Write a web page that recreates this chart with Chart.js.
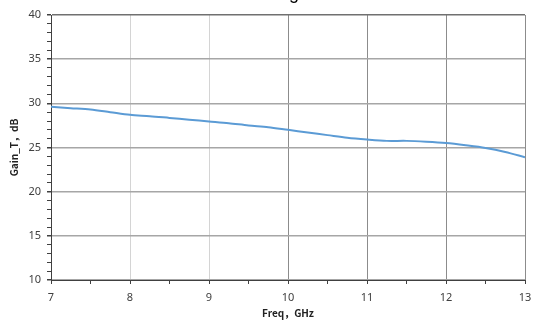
<!DOCTYPE html>
<html>
<head>
<meta charset="utf-8">
<script src="https://cdn.jsdelivr.net/npm/chart.js@4/dist/chart.umd.min.js"></script>
<style>
html,body{margin:0;padding:0;background:#fff;}
#wrap{width:533px;height:323px;position:relative;}
</style>
</head>
<body>
<div id="wrap"><canvas id="c" width="533" height="323"></canvas></div>
<script>
const freqGHz = [7,7.25,7.5,7.75,8,8.25,8.5,8.75,9,9.25,9.5,9.75,10,10.25,10.5,10.75,11,11.25,11.5,11.75,12,12.25,12.5,12.75,13];
const gainT = [29.6,29.45,29.3,29.0,28.7,28.55,28.35,28.15,27.95,27.75,27.5,27.3,27.0,26.7,26.4,26.1,25.9,25.75,25.75,25.65,25.5,25.25,24.95,24.5,23.9];
const xTickLabels = ['7','8','9','10','11','12','13'];
const yTickLabels = ['10','15','20','25','30','35','40'];
const chartTitle = 'Small-signal Gain';
const xTitle = 'Freq，GHz';
const yTitle = 'Gain_T，dB';

const points = freqGHz.map((f,i)=>({x:f,y:gainT[i]}));

const clippedTitle = {
  id:'clippedTitle',
  afterDraw(chart){
    const ctx = chart.ctx;
    ctx.save();
    ctx.font = '18px "Liberation Sans", sans-serif';
    ctx.fillStyle = '#000';
    ctx.textBaseline = 'alphabetic';
    ctx.textAlign = 'left';
    const pre = ctx.measureText('Small-si').width;
    const gw = ctx.measureText('g').width;
    const x0 = 294 - pre - gw/2;
    ctx.fillText(chartTitle, x0, -1);
    ctx.restore();
  }
};

new Chart(document.getElementById('c'), {
  type:'line',
  data:{datasets:[{data:points,borderColor:'#5b9bd5',borderWidth:2,pointRadius:0,tension:0.3,fill:false}]},
  options:{
    responsive:false,animation:false,
    layout:{padding:{left:8,right:0,top:15,bottom:0}},
    plugins:{legend:{display:false},tooltip:{enabled:false}},
    scales:{
      x:{type:'linear',min:7,max:13,
        afterFit(s){s.height=43;s.paddingRight=8;s.paddingLeft=0;},
        afterBuildTicks(s){const t=[];for(let v=7;v<=13.001;v+=0.5)t.push({value:v});s.ticks=t;},
        ticks:{autoSkip:false,maxRotation:0,padding:7,color:'#404040',font:{family:'"Noto Sans", sans-serif',size:11},
          callback(v){return Number.isInteger(v)?xTickLabels[v-7]:'';}},
        grid:{drawOnChartArea:true,tickLength:4,tickColor:'#404040',
          color(c){const v=c.tick&&c.tick.value;if(!Number.isInteger(v))return 'rgba(0,0,0,0)';if(v===8||v===9)return '#d4d4d4';return '#8c8c8c';}},
        border:{display:true,color:'#404040',width:1},
        title:{display:true,text:xTitle,color:'#222',font:{family:'"Noto Sans CJK SC", sans-serif',size:10,weight:'bold'},padding:{top:0,bottom:4}}
      },
      y:{min:10,max:40,
        afterFit(s){s.width=43;},
        afterBuildTicks(s){const t=[];for(let v=10;v<=40;v+=1)t.push({value:v});s.ticks=t;},
        ticks:{autoSkip:false,padding:6,color:'#404040',font:{family:'"Noto Sans", sans-serif',size:11},
          callback(v){return v%5===0?yTickLabels[(v-10)/5]:'';}},
        grid:{tickLength:4,tickColor:'#404040',
          color(c){const v=c.tick&&c.tick.value;if(v%5!==0)return 'rgba(0,0,0,0)';if(v===40)return '#707070';return '#a6a6a6';},
          lineWidth(c){const v=c.tick&&c.tick.value;return v%5===0?1.5:1;}},
        border:{display:true,color:'#404040',width:1},
        title:{display:true,text:yTitle,color:'#222',font:{family:'"Noto Sans CJK SC", sans-serif',size:10,weight:'bold'},padding:{top:0,bottom:4}}
      }
    }
  },
  plugins:[clippedTitle]
});
</script>
</body>
</html>
